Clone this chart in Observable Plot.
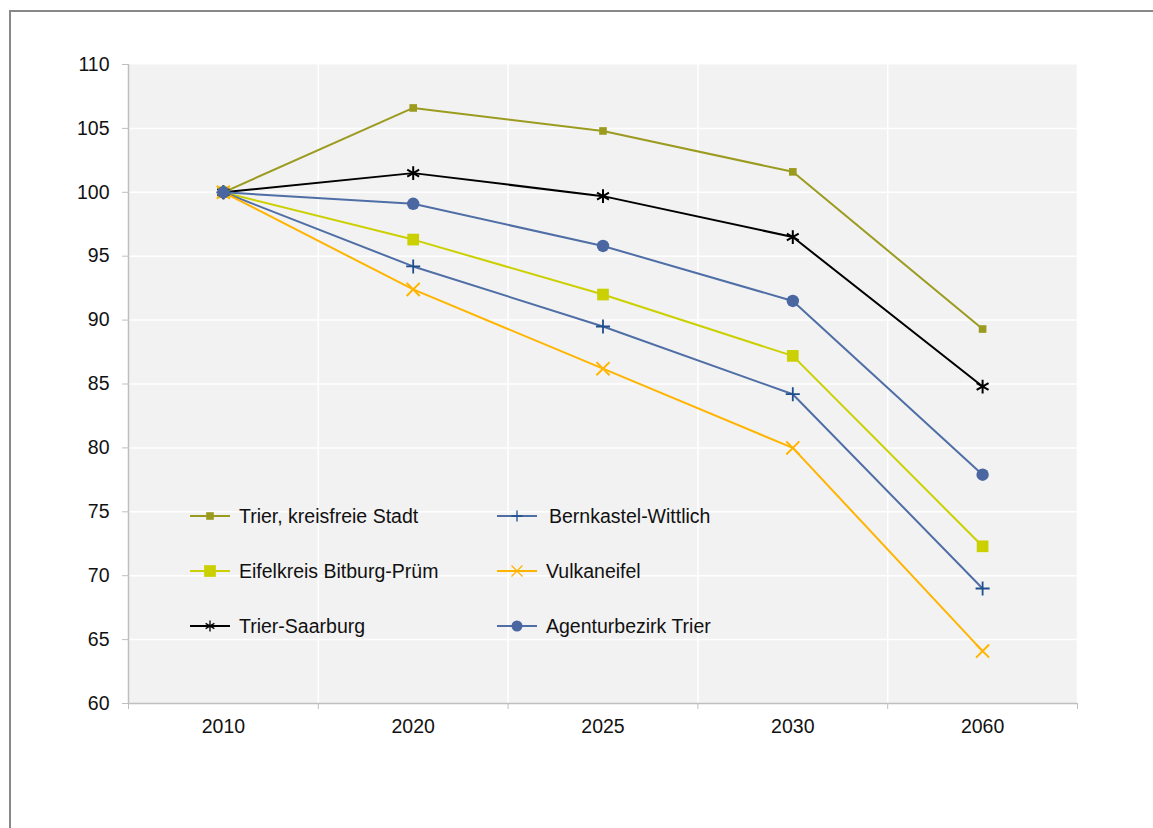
<!DOCTYPE html>
<html>
<head>
<meta charset="utf-8">
<script src="https://cdn.jsdelivr.net/npm/d3@7"></script>
<script src="https://cdn.jsdelivr.net/npm/@observablehq/plot@0.6"></script>
<style>
  html, body { margin: 0; padding: 0; background: #fff; }
  #wrap { position: relative; width: 1153px; height: 828px; overflow: hidden; font-family: "Liberation Sans", Arial, sans-serif; }
  #border { position: absolute; left: 9px; top: 10px; width: 2000px; height: 2000px; border-top: 2px solid #888; border-left: 2px solid #888; }
  #chart { position: absolute; left: 0; top: 0; }
  .leg { position: absolute; display: flex; align-items: center; font-size: 19.5px; color: #111; white-space: nowrap; }
  .leg svg { margin-right: 9px; }
</style>
</head>
<body>
<div id="wrap">
  <div id="border"></div>
  <div id="chart"></div>
  <div id="legend"></div>
</div>
<script>
const years = ["2010", "2020", "2025", "2030", "2060"];
const seriesNames = ["Trier, kreisfreie Stadt", "Eifelkreis Bitburg-Prüm", "Trier-Saarburg", "Bernkastel-Wittlich", "Vulkaneifel", "Agenturbezirk Trier"];
const trierStadt    = [100, 106.6, 104.8, 101.6, 89.3];
const eifelkreis    = [100, 96.3, 92.0, 87.2, 72.3];
const trierSaarburg = [100, 101.5, 99.7, 96.5, 84.8];
const bernkastel    = [100, 94.2, 89.5, 84.2, 69.0];
const vulkaneifel   = [100, 92.4, 86.2, 80.0, 64.1];
const agentur       = [100, 99.1, 95.8, 91.5, 77.9];
const yTicks = [60, 65, 70, 75, 80, 85, 90, 95, 100, 105, 110];

const seriesValues = [trierStadt, eifelkreis, trierSaarburg, bernkastel, vulkaneifel, agentur];
const styles = [
  {line: "#9b9b20", mark: "#9b9b20", symbol: "square", r: 4.3, stroked: false},
  {line: "#cbd000", mark: "#cbd000", symbol: "square", r: 6.6, stroked: false},
  {line: "#000000", mark: "#000000", symbol: "asterisk", r: 6.5, stroked: true},
  {line: "#4f6ea6", mark: "#1f4f8c", symbol: "plus", r: 4.6, stroked: true},
  {line: "#ffb400", mark: "#ffb400", symbol: "times", r: 6, stroked: true},
  {line: "#4f6ea6", mark: "#4a67a2", symbol: "circle", r: 6.2, stroked: false}
];

const idx = d3.range(years.length);
const boundaries = d3.range(years.length + 1).map(i => i - 0.5);

const marks = [
  Plot.frame({fill: "#f2f2f2", stroke: null}),
  Plot.ruleY(yTicks.filter(t => t > 60 && t < 110), {stroke: "#ffffff", strokeWidth: 1.5}),
  Plot.ruleX(boundaries.slice(1), {stroke: "#ffffff", strokeWidth: 1.5}),
  Plot.ruleX([boundaries[0]], {stroke: "#bfbfbf", strokeWidth: 1.5}),
  Plot.ruleY([60], {stroke: "#bfbfbf", strokeWidth: 1.5}),
  Plot.axisY(yTicks, {label: null, tickSize: 6, tickPadding: 13, stroke: "#bfbfbf", fill: "#111", fontSize: 19.5, tickFormat: d => String(d)}),
  Plot.axisX(boundaries, {label: null, tickSize: 6, tickFormat: () => "", stroke: "#bfbfbf"}),
  Plot.axisX(idx, {label: null, tickSize: 0, tickPadding: 16, fill: "#111", fontSize: 19.5, tickFormat: i => years[i]})
];

seriesValues.forEach((vals, s) => {
  const rows = vals.map((v, i) => ({i, v}));
  const st = styles[s];
  marks.push(Plot.line(rows, {x: "i", y: "v", stroke: st.line, strokeWidth: 2}));
});
seriesValues.forEach((vals, s) => {
  const rows = vals.map((v, i) => ({i, v}));
  const st = styles[s];
  if (st.stroked) {
    marks.push(Plot.dot(rows, {x: "i", y: "v", symbol: st.symbol, r: st.r, stroke: st.mark, strokeWidth: st.symbol === "plus" ? 1.8 : 2, fill: "none"}));
  } else {
    marks.push(Plot.dot(rows, {x: "i", y: "v", symbol: st.symbol, r: st.r, fill: st.mark, stroke: "none"}));
  }
});

const chart = Plot.plot({
  width: 1153,
  height: 828,
  marginLeft: 128,
  marginRight: 76,
  marginTop: 64,
  marginBottom: 125,
  style: {fontFamily: "'Liberation Sans', Arial, sans-serif", fontSize: "19.5px", background: "transparent", overflow: "visible"},
  x: {type: "linear", domain: [-0.5, years.length - 0.5], axis: null},
  y: {domain: [60, 110], axis: null},
  marks
});
document.getElementById("chart").appendChild(chart);

// Legend (inside plot area, two columns)
const legendPos = [
  {left: 190, top: 516}, {left: 190, top: 571}, {left: 190, top: 626},
  {left: 497, top: 516}, {left: 497, top: 571}, {left: 497, top: 626}
];
const legend = document.getElementById("legend");
seriesNames.forEach((name, s) => {
  const st = styles[s];
  const div = document.createElement("div");
  div.className = "leg";
  div.style.left = legendPos[s].left + "px";
  div.style.top = (legendPos[s].top - 12) + "px";
  div.style.height = "24px";
  const w = 40, h = 24, cx = 20, cy = 12;
  const svg = d3.create("svg").attr("width", w).attr("height", h);
  svg.append("line").attr("x1", 0).attr("x2", w).attr("y1", cy).attr("y2", cy).attr("stroke", st.line).attr("stroke-width", 2);
  const symMap = {square: d3.symbolSquare, circle: d3.symbolCircle};
  if (st.stroked) {
    const sz = 5.5;
    const g = svg.append("g").attr("stroke", st.mark).attr("stroke-width", 1.3).attr("fill", "none");
    if (st.symbol === "plus") {
      g.append("path").attr("d", `M${cx - sz},${cy}H${cx + sz}M${cx},${cy - sz}V${cy + sz}`);
    } else if (st.symbol === "times") {
      const a = sz;
      g.append("path").attr("d", `M${cx - a},${cy - a}L${cx + a},${cy + a}M${cx - a},${cy + a}L${cx + a},${cy - a}`);
    } else {
      const a = sz * 0.8;
      g.append("path").attr("d", `M${cx},${cy - sz}V${cy + sz}M${cx - a},${cy - a * 0.6}L${cx + a},${cy + a * 0.6}M${cx - a},${cy + a * 0.6}L${cx + a},${cy - a * 0.6}`);
    }
  } else {
    const r = st.symbol === "circle" ? 5.5 : st.r;
    const sym = d3.symbol(symMap[st.symbol], r * r * Math.PI);
    svg.append("path").attr("transform", `translate(${cx},${cy})`).attr("d", sym()).attr("fill", st.mark);
  }
  div.appendChild(svg.node());
  const span = document.createElement("span");
  span.textContent = name;
  if (s === 3) span.style.marginLeft = "3px";
  div.appendChild(span);
  legend.appendChild(div);
});
</script>
</body>
</html>
